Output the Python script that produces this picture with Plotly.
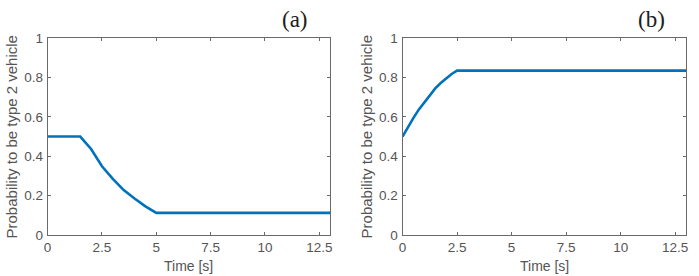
import plotly.graph_objects as go

# Panel (a)
t_a = [0, 1.5, 2.0, 2.5, 3.0, 3.5, 4.0, 4.5, 5.0, 13.0]
p_a = [0.5, 0.5, 0.437, 0.349, 0.285, 0.228, 0.185, 0.145, 0.112, 0.112]
# Panel (b)
t_b = [0, 0.25, 0.5, 0.75, 1.0, 1.25, 1.5, 1.75, 2.0, 2.25, 2.5, 13.0]
p_b = [0.5, 0.55, 0.595, 0.638, 0.675, 0.712, 0.745, 0.772, 0.797, 0.818, 0.835, 0.835]

x_ticks = [0, 2.5, 5, 7.5, 10, 12.5]
x_ticklabels = ["0", "2.5", "5", "7.5", "10", "12.5"]
y_ticks = [0, 0.2, 0.4, 0.6, 0.8, 1]
y_ticklabels = ["0", "0.2", "0.4", "0.6", "0.8", "1"]
panel_labels = ["(a)", "(b)"]
y_title = "Probability to be type 2 vehicle"
x_title = "Time [s]"

W, H = 699, 276
line_color = "#0072BD"
axis_color = "#6a6a6a"
text_color = "#555555"
sans = "Liberation Sans"

fig = go.Figure()
fig.add_trace(go.Scatter(x=t_a, y=p_a, mode="lines", line=dict(color=line_color, width=2.6),
                         xaxis="x", yaxis="y", showlegend=False))
fig.add_trace(go.Scatter(x=t_b, y=p_b, mode="lines", line=dict(color=line_color, width=2.6),
                         xaxis="x2", yaxis="y2", showlegend=False))

yd = [(H - 241) / H, (H - 33) / H]
dom_a = [44 / W, 329 / W]
dom_b = [402 / W, 688 / W]

common_x = dict(range=[0, 13], tickvals=x_ticks, ticktext=x_ticklabels, showgrid=False, zeroline=False,
                showline=True, linecolor=axis_color, linewidth=1, mirror="ticks", ticks="inside",
                ticklen=3, tickcolor=axis_color, tickfont=dict(family=sans, size=13.5, color=text_color))
common_y = dict(range=[0, 1], tickvals=y_ticks, ticktext=y_ticklabels, showgrid=False, zeroline=False,
                showline=True, linecolor=axis_color, linewidth=1, mirror="ticks", ticks="inside",
                ticklen=3, tickcolor=axis_color, tickfont=dict(family=sans, size=13.5, color=text_color),
                ticklabelstandoff=1, domain=yd)

fig.update_layout(
    width=W, height=H, margin=dict(l=0, r=0, t=0, b=0),
    paper_bgcolor="white", plot_bgcolor="white",
    xaxis=dict(domain=dom_a, anchor="y", **common_x),
    yaxis=dict(anchor="x", **common_y),
    xaxis2=dict(domain=dom_b, anchor="y2", **common_x),
    yaxis2=dict(anchor="x2", **common_y),
)

ann = []
for lbl, cx in zip(panel_labels, [294, 653]):
    ann.append(dict(text=lbl, x=cx / W, y=(H - 13) / H, xref="paper", yref="paper", showarrow=False,
                    xanchor="center", yanchor="middle",
                    font=dict(family="Liberation Serif", size=23, color="#202020")))
for cx in [8, 366]:
    ann.append(dict(text=y_title, x=cx / W, y=(H - 137) / H, xref="paper", yref="paper", showarrow=False,
                    xanchor="center", yanchor="middle", textangle=-90,
                    font=dict(family=sans, size=15, color=text_color)))
for cx in [186, 545]:
    ann.append(dict(text=x_title, x=cx / W, y=(H - 274) / H, xref="paper", yref="paper", showarrow=False,
                    xanchor="center", yanchor="middle",
                    font=dict(family=sans, size=14, color=text_color)))
fig.update_layout(annotations=ann)

fig.write_html("out.html")
